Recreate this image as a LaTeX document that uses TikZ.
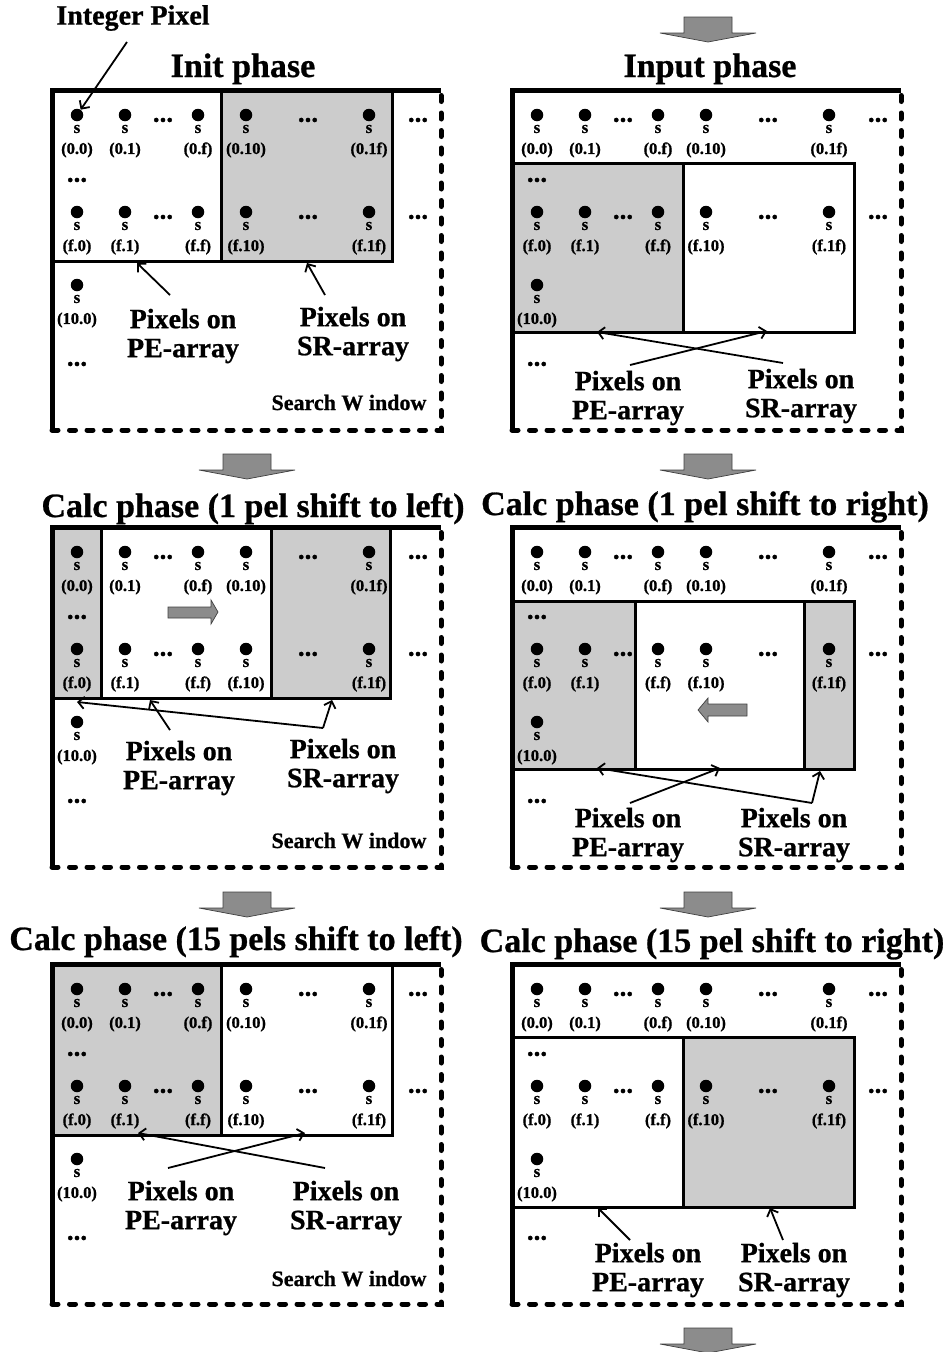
\documentclass[tikz,border=0pt]{standalone}
\usepackage{fontspec}
\setmainfont{Liberation Serif}[BoldFeatures={FakeBold=0.8}]
\usetikzlibrary{arrows.meta}
\definecolor{boxgray}{HTML}{CCCCCC}
\definecolor{arrgray}{HTML}{8C8C8C}
\tikzset{
 pdot/.style={circle, fill=black, inner sep=0pt, minimum size=12.5pt},
 stxt/.style={font=\fontsize{17}{17}\selectfont\bfseries, inner sep=0pt},
 ltxt/.style={font=\fontsize{16.5}{16.5}\selectfont\bfseries, inner sep=0pt},
 ell/.style={font=\fontsize{27}{27}\selectfont\bfseries, inner sep=0pt},
 ttl/.style={font=\fontsize{34}{34}\selectfont\bfseries, inner sep=0pt, anchor=base},
 iptxt/.style={font=\fontsize{28}{28}\selectfont\bfseries, inner sep=0pt},
 lab/.style={font=\fontsize{28}{29}\selectfont\bfseries, align=center, inner sep=0pt},
 swtxt/.style={font=\fontsize{22}{22}\selectfont\bfseries, inner sep=0pt, anchor=base},
 frameS/.style={line width=5pt},
 frameD/.style={line width=5pt, dash pattern=on 6pt off 11.5pt, line cap=round},
 inbox/.style={line width=3pt},
 arr/.style={line width=1.8pt, -{Straight Barb[length=6pt,width=12pt]}},
 garrow/.style={fill=arrgray, draw=black!75, line width=0.7pt}
}
\newcommand\mypix[4]{\node[pdot] (#1) at (#2,#3) {}; \node[stxt] (#1s) at (#2,#3+14) {s}; \node[ltxt] (#1l) at (#2,#3+35) {#4};}
\newcommand\myrowA[1]{%
 \mypix{#1a}{77}{115}{(0.0)}\mypix{#1b}{125}{115}{(0.1)}\mypix{#1c}{198}{115}{(0.f)}\mypix{#1d}{246}{115}{(0.10)}\mypix{#1e}{369}{115}{(0.1f)}%
 \node[ell] (#1x1) at (163,120) {...};\node[ell] (#1x2) at (308,120) {...};\node[ell] (#1x3) at (418,120) {...};}
\newcommand\myrowF[1]{%
 \mypix{#1f}{77}{212}{(f.0)}\mypix{#1g}{125}{212}{(f.1)}\mypix{#1h}{198}{212}{(f.f)}\mypix{#1i}{246}{212}{(f.10)}\mypix{#1j}{369}{212}{(f.1f)}%
 \node[ell] (#1y1) at (163,217) {...};\node[ell] (#1y2) at (308,217) {...};\node[ell] (#1y3) at (418,217) {...};}
\newcommand\mycol[1]{\node[ell] (#1v1) at (77,180) {...}; \mypix{#1k}{77}{285}{(10.0)}\node[ell] (#1v2) at (77,364) {...};}
\newcommand\myframe{\draw[frameS] (441,90) -- (52,90) -- (52,430); \draw[frameD] (52,430) -- (441,430) -- (441,90);}
\newcommand\mydown[2]{\draw[garrow] (#1-24,#2) -- (#1+24,#2) -- (#1+24,#2+16) -- (#1+48,#2+16) -- (#1,#2+25) -- (#1-48,#2+16) -- (#1-24,#2+16) -- cycle;}
\begin{document}
\begin{tikzpicture}[x=1pt,y=-1pt]
\useasboundingbox (0,0) rectangle (951,1352);
% ---------------- Panel 1: Init phase
\begin{scope}
 \fill[boxgray] (221,90) rectangle (392,261);
 \draw[inbox] (52,90) rectangle (392,261);
 \draw[inbox] (221,90) -- (221,261);
 \myframe
 \node[ttl] (t1) at (243,77) {Init phase};
 \node[iptxt] (ip) at (133,18) {Integer Pixel};
 \myrowA{p1}\myrowF{p1}\mycol{p1}
 \coordinate (ipA) at (127,42);
 \draw[arr] (ipA) -- (p1a);
 \node[lab] (p1pe) at (183,336) {Pixels on\\PE-array};
 \node[lab] (p1sr) at (353,334) {Pixels on\\SR-array};
 \coordinate (p1peA) at (170,295); \coordinate (p1peB) at (137,263);
 \coordinate (p1srA) at (325,295); \coordinate (p1srB) at (307,263);
 \draw[arr] (p1peA) -- (p1peB);
 \draw[arr] (p1srA) -- (p1srB);
 \node[swtxt] (sw1) at (349,410) {Search W indow};
\end{scope}
% ---------------- Panel 2: Input phase
\begin{scope}[shift={(460,0)}]
 \mydown{248}{17}
 \fill[boxgray] (52,163) rectangle (223,332);
 \draw[inbox] (52,163) rectangle (394,332);
 \draw[inbox] (223,163) -- (223,332);
 \myframe
 \node[ttl] (t2) at (250,77) {Input phase};
 \myrowA{p2}\myrowF{p2}\mycol{p2}
 \node[lab] (p2pe) at (168,398) {Pixels on\\PE-array};
 \node[lab] (p2sr) at (341,396) {Pixels on\\SR-array};
 \coordinate (p2peA) at (170,365); \coordinate (p2peB) at (307,331);
 \coordinate (p2srA) at (323,363); \coordinate (p2srB) at (137,332);
 \draw[arr] (p2peA) -- (p2peB);
 \draw[arr] (p2srA) -- (p2srB);
\end{scope}
% ---------------- Panel 3: Calc phase 1 pel left
\begin{scope}[shift={(0,437)}]
 \mydown{247}{17}
 \fill[boxgray] (52,90) rectangle (101,261);
 \fill[boxgray] (271,90) rectangle (390,261);
 \draw[inbox] (52,90) rectangle (390,261);
 \draw[inbox] (101,90) -- (101,261);
 \draw[inbox] (271,90) -- (271,261);
 \myframe
 \node[ttl] (t3) at (253,80) {Calc phase (1 pel shift to left)};
 \myrowA{p3}\myrowF{p3}\mycol{p3}
 \draw[garrow] (168,170) -- (211,170) -- (211,163) -- (218,175) -- (211,187) -- (211,181) -- (168,181) -- cycle;
 \node[lab] (p3pe) at (179,331) {Pixels on\\PE-array};
 \node[lab] (p3sr) at (343,329) {Pixels on\\SR-array};
 \coordinate (p3peA) at (170,293); \coordinate (p3peB) at (150,263);
 \coordinate (p3srA) at (323,291); \coordinate (p3srB) at (77,265); \coordinate (p3srC) at (332,263);
 \draw[arr] (p3peA) -- (p3peB);
 \draw[arr] (p3srA) -- (p3srB);
 \draw[arr] (p3srA) -- (p3srC);
 \node[swtxt] (sw3) at (349,411) {Search W indow};
\end{scope}
% ---------------- Panel 4: Calc phase 1 pel right
\begin{scope}[shift={(460,437)}]
 \mydown{248}{17}
 \fill[boxgray] (52,164) rectangle (175,332);
 \fill[boxgray] (344,164) rectangle (394,332);
 \draw[inbox] (52,164) rectangle (394,332);
 \draw[inbox] (175,164) -- (175,332);
 \draw[inbox] (344,164) -- (344,332);
 \myframe
 \node[ttl] (t4) at (245,78) {Calc phase (1 pel shift to right)};
 \myrowA{p4}\myrowF{p4}\mycol{p4}
 \draw[garrow] (287,267) -- (248,267) -- (248,261) -- (238,273) -- (248,285) -- (248,279) -- (287,279) -- cycle;
 \node[lab] (p4pe) at (168,398) {Pixels on\\PE-array};
 \node[lab] (p4sr) at (334,398) {Pixels on\\SR-array};
 \coordinate (p4peA) at (170,366); \coordinate (p4peB) at (260,331);
 \coordinate (p4srA) at (352,366); \coordinate (p4srB) at (137,331); \coordinate (p4srC) at (360,334);
 \draw[arr] (p4peA) -- (p4peB);
 \draw[arr] (p4srA) -- (p4srB);
 \draw[arr] (p4srA) -- (p4srC);
\end{scope}
% ---------------- Panel 5: Calc phase 15 pels left
\begin{scope}[shift={(0,874)}]
 \mydown{247}{18}
 \fill[boxgray] (52,90) rectangle (221,261);
 \draw[inbox] (52,90) rectangle (392,261);
 \draw[inbox] (221,90) -- (221,261);
 \myframe
 \node[ttl] (t5) at (236,76) {Calc phase (15 pels shift to left)};
 \myrowA{p5}\myrowF{p5}\mycol{p5}
 \node[lab] (p5pe) at (181,334) {Pixels on\\PE-array};
 \node[lab] (p5sr) at (346,334) {Pixels on\\SR-array};
 \coordinate (p5peA) at (168,294); \coordinate (p5peB) at (305,259);
 \coordinate (p5srA) at (325,294); \coordinate (p5srB) at (138,259);
 \draw[arr] (p5peA) -- (p5peB);
 \draw[arr] (p5srA) -- (p5srB);
 \node[swtxt] (sw5) at (349,412) {Search W indow};
\end{scope}
% ---------------- Panel 6: Calc phase 15 pel right
\begin{scope}[shift={(460,874)}]
 \mydown{248}{18}
 \mydown{248}{454}
 \fill[boxgray] (223,163) rectangle (394,333);
 \draw[inbox] (52,163) rectangle (394,333);
 \draw[inbox] (223,163) -- (223,333);
 \myframe
 \node[ttl] (t6) at (252,78) {Calc phase (15 pel shift to right)};
 \myrowA{p6}\myrowF{p6}\mycol{p6}
 \node[lab] (p6pe) at (188,396) {Pixels on\\PE-array};
 \node[lab] (p6sr) at (334,396) {Pixels on\\SR-array};
 \coordinate (p6peA) at (170,366); \coordinate (p6peB) at (138,334);
 \coordinate (p6srA) at (323,366); \coordinate (p6srB) at (310,334);
 \draw[arr] (p6peA) -- (p6peB);
 \draw[arr] (p6srA) -- (p6srB);
\end{scope}
\end{tikzpicture}
\end{document}
